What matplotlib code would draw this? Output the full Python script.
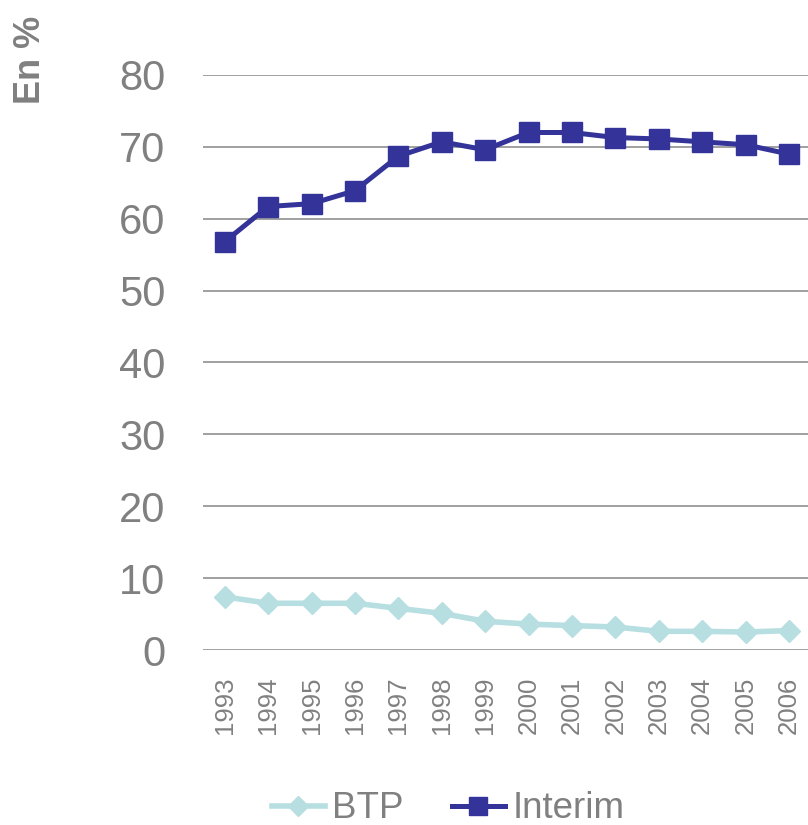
import numpy as np
import matplotlib.pyplot as plt

years = ['1993', '1994', '1995', '1996', '1997', '1998', '1999',
         '2000', '2001', '2002', '2003', '2004', '2005', '2006']
btp = [7.4, 6.5, 6.5, 6.5, 5.8, 5.1, 4.0, 3.6, 3.4, 3.2, 2.6, 2.6, 2.5, 2.7]
interim = [56.8, 61.7, 62.1, 63.9, 68.7, 70.7, 69.6,
           72.0, 72.0, 71.3, 71.1, 70.7, 70.3, 69.0]
yticks = [0, 10, 20, 30, 40, 50, 60, 70, 80]

plt.rcParams['font.family'] = ['Liberation Sans', 'DejaVu Sans']
grey = '#808080'

fig = plt.figure(figsize=(8.08, 8.25), dpi=100)
ax = fig.add_axes([203 / 808, 175 / 825, 1 - 203 / 808, 575 / 825])

x = np.arange(len(years))
ax.plot(x, btp, color='#B7DEE1', lw=4, marker='D', ms=11.5,
        label='BTP', zorder=3, clip_on=False)
ax.plot(x, interim, color='#333399', lw=3.6, marker='s', ms=14.4,
        label='Interim', zorder=3, clip_on=False)

ax.set_ylim(0, 80)
ax.set_xlim(-0.5, 13.44)
ax.set_yticks(yticks)
ax.set_yticklabels([str(v) for v in yticks], fontsize=30, color=grey)
ax.set_xticks(x)
ax.set_xticklabels(years, rotation=90, fontsize=18.5, color=grey)
ax.tick_params(axis='y', length=0, pad=27)
ax.tick_params(axis='x', length=0, pad=19)
ax.grid(axis='y', color='#999999', lw=1.3)
ax.set_axisbelow(True)
for s in ax.spines.values():
    s.set_visible(False)

fig.text(30 / 808, 1 - 60 / 825, 'En %', rotation=90, fontsize=26,
         fontweight='bold', color=grey, ha='center', va='center')

fig.legend(loc='center', bbox_to_anchor=(448 / 808, 16 / 825), ncol=2,
           frameon=False, fontsize=26.5, labelcolor=grey, handlelength=1.45,
           handletextpad=0.2, columnspacing=1.3, borderpad=0,
           markerscale=0.9)

fig.savefig('out.png', dpi=100)
